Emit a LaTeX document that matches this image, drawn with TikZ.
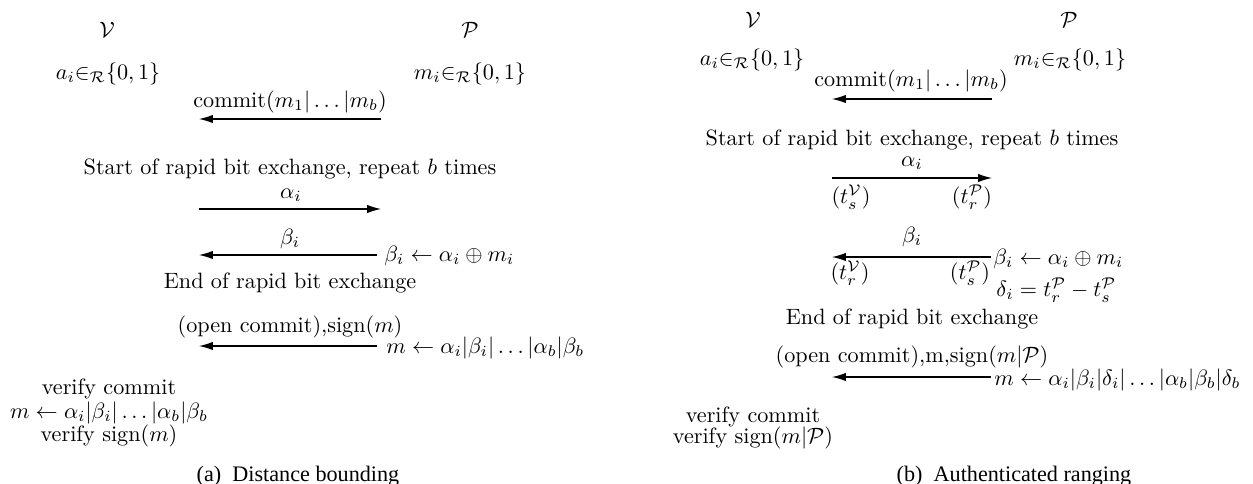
\documentclass[tikz,border=0pt]{standalone}
\usepackage{fontspec}
\newfontfamily\capfont{Liberation Serif}
\usetikzlibrary{arrows.meta}
\begin{document}
\begin{tikzpicture}[x=0.451pt,y=-0.451pt,
  txt/.style={inner sep=0pt, font=\fontsize{10}{12}\selectfont},
  msg/.style={line width=0.5pt, -{Latex[length=6.3pt,width=3.8pt]}},
  captxt/.style={inner sep=0pt, font=\capfont\fontsize{10}{12}\selectfont}]
\useasboundingbox (0,0) rectangle (1253,484);
% ---------------- (a) Distance bounding ----------------
\node[txt] (vL) at (107,30) {$\mathcal{V}$};
\node[txt] (pL) at (470,30) {$\mathcal{P}$};
\node[txt] (aL) at (108,74) {$a_i{\in}_{\mathcal{R}}\{0,1\}$};
\node[txt] (mL) at (470,74) {$m_i{\in}_{\mathcal{R}}\{0,1\}$};
\node[txt] (cL) at (290,102) {commit$(m_1|\ldots|m_b)$};
\coordinate (l1s) at (381,119); \coordinate (l1e) at (199,119);
\draw[msg] (l1s) -- (l1e);
\node[txt] (sL) at (290,169) {Start of rapid bit exchange, repeat $b$ times};
\node[txt] (alL) at (291,195) {$\alpha_i$};
\coordinate (l2s) at (199,209); \coordinate (l2e) at (381,209);
\draw[msg] (l2s) -- (l2e);
\node[txt] (beL) at (290,239) {$\beta_i$};
\coordinate (l3s) at (377,255); \coordinate (l3e) at (199,255);
\draw[msg] (l3s) -- (l3e);
\node[txt,anchor=west] (xL) at (384,256) {$\beta_i \leftarrow \alpha_i \oplus m_i$};
\node[txt] (eL) at (290,283) {End of rapid bit exchange};
\node[txt] (oL) at (290,327) {(open commit),sign$(m)$};
\coordinate (l4s) at (377,346); \coordinate (l4e) at (199,346);
\draw[msg] (l4s) -- (l4e);
\node[txt,anchor=west] (mcL) at (386,348) {$m \leftarrow \alpha_i|\beta_i|\ldots|\alpha_b|\beta_b$};
\node[txt,align=center] (verL) at (109,413) {verify commit\\[-1.4pt] $m \leftarrow \alpha_i|\beta_i|\ldots|\alpha_b|\beta_b$\\[-1.4pt] verify sign$(m)$};
\node[captxt] (capL) at (298,476) {(a)\ \ Distance bounding};
% ---------------- (b) Authenticated ranging ----------------
\node[txt] (vR) at (753,20) {$\mathcal{V}$};
\node[txt] (pR) at (1069,20) {$\mathcal{P}$};
\node[txt] (aR) at (752,60) {$a_i{\in}_{\mathcal{R}}\{0,1\}$};
\node[txt] (mR) at (1070,60) {$m_i{\in}_{\mathcal{R}}\{0,1\}$};
\node[txt] (cR) at (911,81) {commit$(m_1|\ldots|m_b)$};
\coordinate (r1s) at (992,99); \coordinate (r1e) at (832,99);
\draw[msg] (r1s) -- (r1e);
\node[txt] (sR) at (912,140) {Start of rapid bit exchange, repeat $b$ times};
\node[txt] (alR) at (912,163) {$\alpha_i$};
\coordinate (r2s) at (832,178); \coordinate (r2e) at (992,178);
\draw[msg] (r2s) -- (r2e);
\node[txt] (tsV) at (851,197) {$(t_s^{\mathcal{V}})$};
\node[txt] (trP) at (972,197) {$(t_r^{\mathcal{P}})$};
\node[txt] (beR) at (912,237) {$\beta_i$};
\coordinate (r3s) at (991,257); \coordinate (r3e) at (832,257);
\draw[msg] (r3s) -- (r3e);
\node[txt] (trV) at (850,273) {$(t_r^{\mathcal{V}})$};
\node[txt] (tsP) at (970,273) {$(t_s^{\mathcal{P}})$};
\node[txt,anchor=west] (xR) at (993,259) {$\beta_i \leftarrow \alpha_i \oplus m_i$};
\node[txt,anchor=west] (dR) at (996,290) {$\delta_i = t_r^{\mathcal{P}} - t_s^{\mathcal{P}}$};
\node[txt] (eR) at (912,319) {End of rapid bit exchange};
\node[txt] (oR) at (912,357) {(open commit),m,sign$(m|\mathcal{P})$};
\coordinate (r4s) at (991,377); \coordinate (r4e) at (832,377);
\draw[msg] (r4s) -- (r4e);
\node[txt,anchor=west] (mcR) at (994,380) {$m \leftarrow \alpha_i|\beta_i|\delta_i|\ldots|\alpha_b|\beta_b|\delta_b$};
\node[txt,align=center] (verR) at (753,428) {verify commit\\[-2.2pt] verify sign$(m|\mathcal{P})$};
\node[captxt] (capR) at (1014,476) {(b)\ \ Authenticated ranging};
\end{tikzpicture}
\end{document}
